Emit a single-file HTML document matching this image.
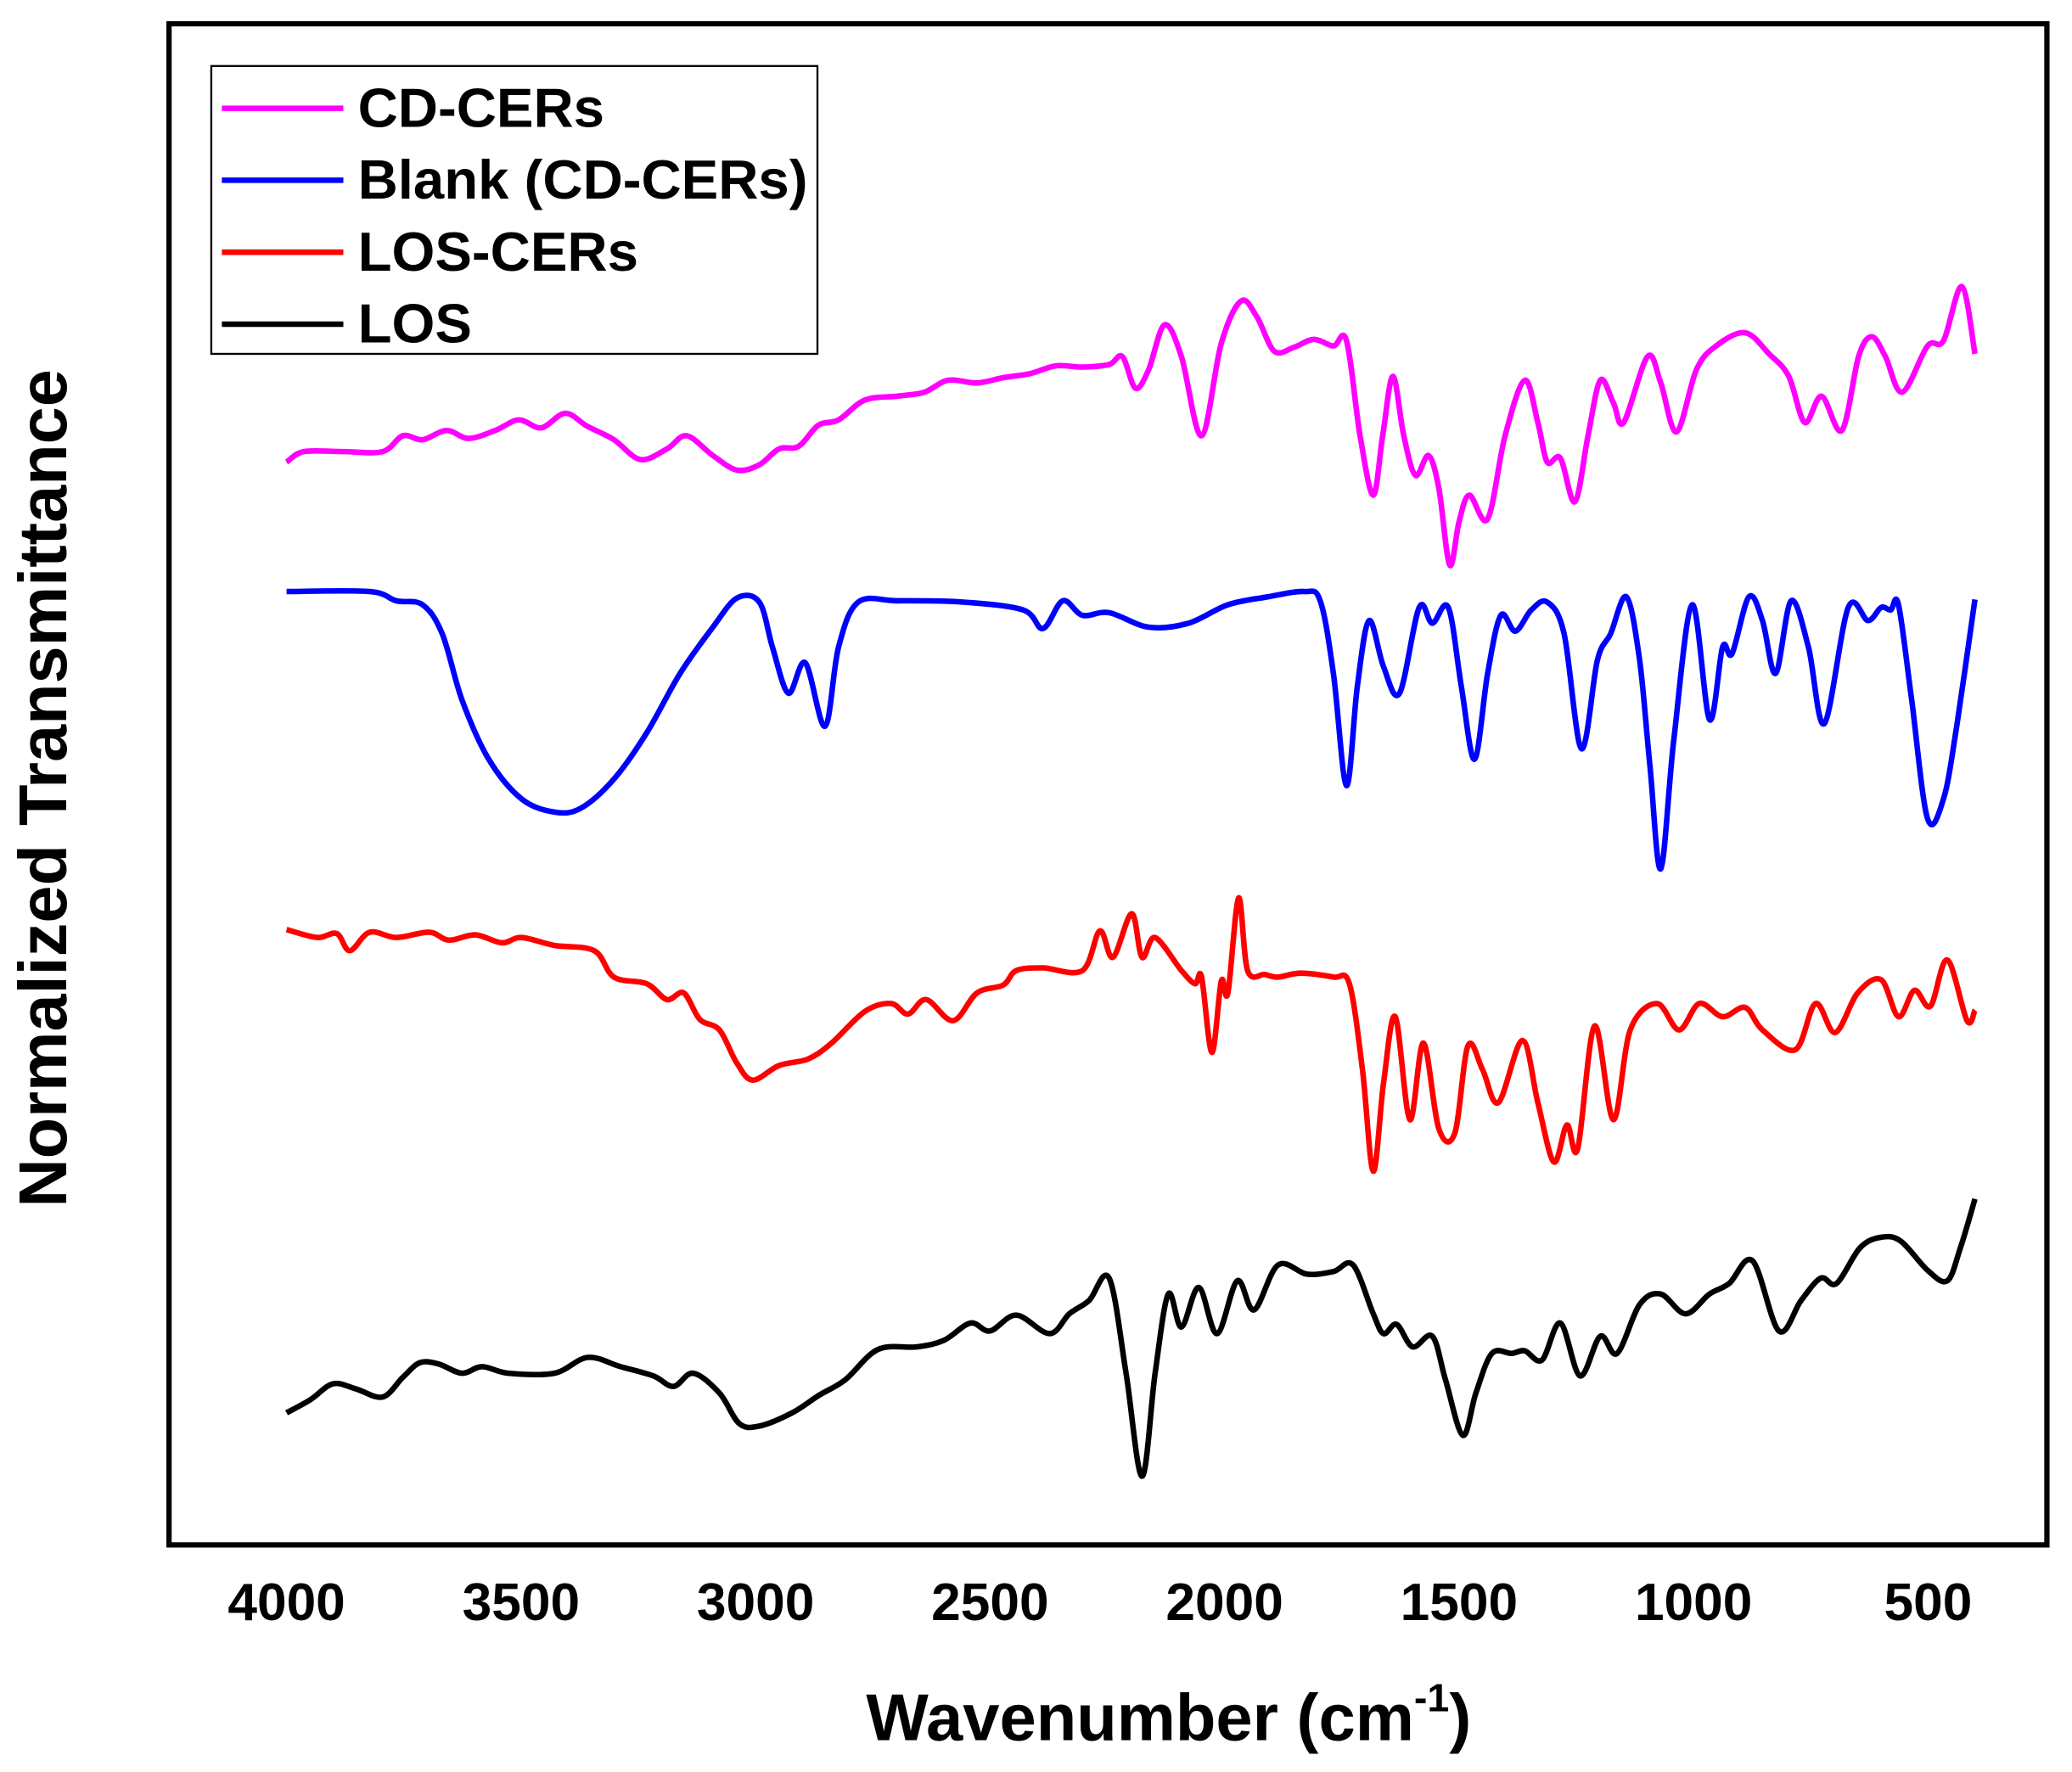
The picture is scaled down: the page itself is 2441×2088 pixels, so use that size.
<!DOCTYPE html>
<html><head><meta charset="utf-8"><style>
html,body{margin:0;padding:0;background:#fff;}
svg{display:block;font-family:"Liberation Sans",Arial,sans-serif;font-weight:bold;}
</style></head><body>
<svg id="chart" width="2441" height="2088" viewBox="0 0 1569 1342" preserveAspectRatio="none" xmlns="http://www.w3.org/2000/svg">
<rect x="0" y="0" width="1569" height="1342" fill="#fff"/>
<g id="series"></g>
<rect x="128" y="18" width="1422" height="1152" fill="none" stroke="#000" stroke-width="4"/>
<g id="xticks" font-size="40" text-anchor="middle"></g>
<text x="885" y="1318" font-size="50" text-anchor="middle">Wavenumber (cm<tspan font-size="30" dy="-22">-1</tspan><tspan dy="22">)</tspan></text>
<text transform="translate(50,597) rotate(-90)" font-size="51" text-anchor="middle">Normalized Transmittance</text>
<g>
<rect x="160" y="50" width="459" height="218" fill="#fff" stroke="#000" stroke-width="1.5"/>
<g id="legend-items" font-size="42"></g>
</g>
</svg>
<script>
const xTickLabels=[4000,3500,3000,2500,2000,1500,1000,500];
const seriesNames=["CD-CERs","Blank (CD-CERs)","LOS-CERs","LOS"];
const seriesColors=["#ff00ff","#0000ff","#ff0000","#000000"];
const cdWave=[4000,3963,3879,3795,3752,3710,3659,3612,3555,3505,3457,3406,3358,3302,3246,3189,3147,3091,3040,2992,2950,2908,2866,2823,2767,2697,2640,2590,2528,2472,2415,2359,2303,2246,2218,2190,2162,2128,2092,2049,2007,1965,1931,1894,1852,1810,1768,1740,1711,1683,1663,1641,1618,1593,1565,1543,1520,1500,1478,1439,1402,1360,1332,1312,1284,1253,1225,1199,1171,1149,1098,1070,1036,994,952,890,839,797,763,727,684,648,620,591,555,501,467,428,400];
const cdVal=[820,828,828,828,840,837,844,838,844,852,846,857,847,837,822,830,840,825,814,818,830,832,848,852,867,870,873,882,880,884,887,893,892,894,900,876,890,924,900,840,910,942,930,904,907,913,908,912,840,795,840,885,840,810,825,800,742,775,795,777,840,882,850,820,823,790,840,882,865,850,900,880,843,890,908,918,902,885,850,870,844,900,915,900,873,908,912,953,902];
const blankWave=[4000,3823,3766,3710,3668,3626,3569,3499,3429,3372,3302,3232,3161,3091,3040,2992,2964,2930,2894,2852,2823,2781,2697,2556,2429,2387,2345,2303,2246,2162,2077,1993,1908,1830,1796,1768,1740,1717,1692,1661,1627,1585,1557,1523,1495,1467,1439,1411,1380,1346,1312,1276,1239,1205,1177,1143,1115,1093,1070,1042,1003,966,938,918,882,853,825,792,755,721,670,628,600,580,563,535,501,467,439,400];
const blankVal=[722,722,715,712,690,640,595,565,555,558,580,615,660,695,717,714,680,645,668,620,680,714,715,714,708,694,715,704,706,695,698,712,718,722,715,660,575,650,700,665,645,710,698,710,650,595,660,704,692,708,714,690,603,670,690,718,670,590,512,610,712,625,680,675,718,700,660,715,680,622,710,700,710,708,712,640,550,565,620,716];
const losCerWave=[4000,3935,3893,3865,3823,3766,3696,3654,3598,3541,3499,3429,3344,3302,3232,3189,3153,3119,3077,3040,3006,2950,2888,2838,2767,2711,2675,2636,2579,2528,2472,2444,2387,2303,2266,2238,2198,2176,2148,2092,2063,2049,2027,2007,1993,1970,1951,1914,1886,1838,1768,1734,1706,1683,1661,1636,1605,1576,1543,1509,1481,1450,1416,1365,1332,1298,1270,1247,1211,1171,1135,1078,1031,988,938,890,853,783,740,698,650,600,563,529,495,459,417,400];
const losCerVal=[466,460,463,450,464,460,464,458,462,456,460,454,450,430,425,413,418,398,390,365,352,363,368,380,404,410,402,413,397,418,424,435,437,435,465,445,478,445,460,435,425,430,373,427,418,490,435,432,430,433,430,425,360,283,350,400,322,380,315,312,378,360,335,382,335,290,318,300,393,322,390,410,390,410,400,407,390,375,410,388,418,428,400,420,408,443,397,405];
const losWave=[4000,3949,3901,3851,3795,3752,3716,3676,3626,3583,3527,3429,3358,3288,3218,3175,3133,3077,3035,2992,2922,2866,2809,2739,2655,2598,2542,2500,2444,2373,2331,2289,2246,2210,2176,2148,2120,2092,2055,2016,1973,1937,1886,1824,1768,1726,1683,1661,1633,1599,1557,1529,1492,1464,1430,1388,1360,1323,1284,1242,1199,1163,1115,1070,1017,966,924,874,818,771,729,695,645,600,558,501,459,431,400];
const losVal=[100,110,122,118,112,127,138,137,130,135,130,130,142,135,128,120,130,115,92,90,100,113,125,148,150,155,168,162,174,160,175,185,202,130,52,130,190,165,195,160,200,178,212,205,207,212,175,160,167,150,158,125,83,115,145,145,147,140,168,128,158,145,182,190,175,190,198,215,162,185,202,198,225,233,230,208,200,225,262];
const allWaves=[cdWave,blankWave,losCerWave,losWave];
const allVals=[cdVal,blankVal,losCerVal,losVal];

const PB=1170;
function xScale(w){return 217+(4000-w)*(1460-217)/3500;}
function yScale(v){return PB-v;}

const NS="http://www.w3.org/2000/svg";
function smoothPath(pts){
  let d="M"+pts[0][0].toFixed(1)+","+pts[0][1].toFixed(1);
  for(let i=0;i<pts.length-1;i++){
    const p0=pts[Math.max(0,i-1)],p1=pts[i],p2=pts[i+1],p3=pts[Math.min(pts.length-1,i+2)];
    const c1x=p1[0]+(p2[0]-p0[0])/6,c1y=p1[1]+(p2[1]-p0[1])/6;
    const c2x=p2[0]-(p3[0]-p1[0])/6,c2y=p2[1]-(p3[1]-p1[1])/6;
    d+=" C"+c1x.toFixed(1)+","+c1y.toFixed(1)+" "+c2x.toFixed(1)+","+c2y.toFixed(1)+" "+p2[0].toFixed(1)+","+p2[1].toFixed(1);
  }
  return d;
}
const sg=document.getElementById("series");
for(let s=0;s<allWaves.length;s++){
  const pts=allWaves[s].map((w,i)=>[xScale(w),yScale(allVals[s][i])]);
  const p=document.createElementNS(NS,"path");
  p.setAttribute("d",smoothPath(pts));
  p.setAttribute("fill","none");
  p.setAttribute("stroke",seriesColors[s]);
  p.setAttribute("stroke-width","4.2");
  p.setAttribute("stroke-linejoin","round");
  
  
  sg.appendChild(p);
}
const xt=document.getElementById("xticks");
xTickLabels.forEach(v=>{
  const t=document.createElementNS(NS,"text");
  t.setAttribute("x",xScale(v));
  t.setAttribute("y",1227);
  t.textContent=v;
  
  
  xt.appendChild(t);
});
const lg=document.getElementById("legend-items");
seriesNames.forEach((n,i)=>{
  const y=82+i*54.5;
  const l=document.createElementNS(NS,"line");
  l.setAttribute("x1",168);l.setAttribute("x2",260);
  l.setAttribute("y1",y);l.setAttribute("y2",y);
  l.setAttribute("stroke",seriesColors[i]);l.setAttribute("stroke-width","4.2");
  
  
  lg.appendChild(l);
  const t=document.createElementNS(NS,"text");
  t.setAttribute("x",271);t.setAttribute("y",y+14);
  t.textContent=n;
  
  
  lg.appendChild(t);
});
</script>
</body></html>
